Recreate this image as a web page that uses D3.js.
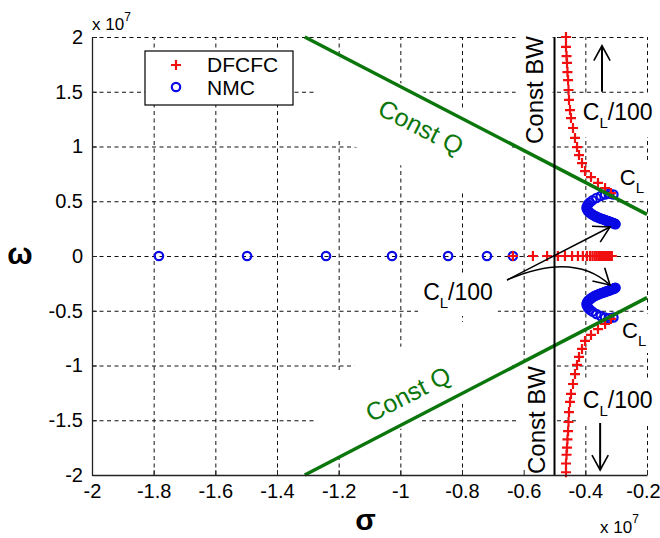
<!DOCTYPE html>
<html>
<head>
<meta charset="utf-8">
<script src="https://cdn.jsdelivr.net/npm/d3@7"></script>
<style>
  body { margin: 0; background: #fff; }
  svg text { font-family: "Liberation Sans", Arial, sans-serif; }
</style>
</head>
<body>
<svg id="chart" width="660" height="538"></svg>
<script>
// values are in units of 1e7 (as on the axes)
var xTicks = [-2, -1.8, -1.6, -1.4, -1.2, -1, -0.8, -0.6, -0.4, -0.2];
var xTickLabels = ["-2", "-1.8", "-1.6", "-1.4", "-1.2", "-1", "-0.8", "-0.6", "-0.4", "-0.2"];
var yTicks = [-2, -1.5, -1, -0.5, 0, 0.5, 1, 1.5, 2];
var yTickLabels = ["-2", "-1.5", "-1", "-0.5", "0", "0.5", "1", "1.5", "2"];

var legendNames = ["DFCFC", "NMC"];

// NMC poles on the real axis (sigma)
var nmcReal = [-1.783, -1.497, -1.241, -1.027, -0.845, -0.719, -0.635];
// NMC complex poles [sigma, omega]
var nmcUpper = [[-0.309,0.562],[-0.322,0.568],[-0.336,0.562],[-0.350,0.548],[-0.364,0.530],[-0.377,0.508],
  [-0.386,0.488],[-0.391,0.472],[-0.394,0.457],[-0.396,0.443],[-0.395,0.430],[-0.393,0.418],[-0.390,0.407],
  [-0.386,0.397],[-0.382,0.388],[-0.378,0.379],[-0.373,0.371],[-0.368,0.364],[-0.363,0.357],[-0.358,0.351],
  [-0.353,0.345],[-0.348,0.340],[-0.343,0.335],[-0.338,0.330],[-0.334,0.326],[-0.330,0.322],[-0.326,0.318],
  [-0.322,0.314],[-0.319,0.310],[-0.316,0.307],[-0.313,0.304],[-0.311,0.301],[-0.309,0.299],[-0.307,0.297],
  [-0.305,0.295],[-0.304,0.293],[-0.302,0.291]];
var nmcLower = [[-0.309,-0.562],[-0.322,-0.568],[-0.336,-0.562],[-0.350,-0.548],[-0.364,-0.530],[-0.377,-0.508],
  [-0.386,-0.488],[-0.391,-0.472],[-0.394,-0.457],[-0.396,-0.443],[-0.395,-0.430],[-0.393,-0.418],[-0.390,-0.407],
  [-0.386,-0.397],[-0.382,-0.388],[-0.378,-0.379],[-0.373,-0.371],[-0.368,-0.364],[-0.363,-0.357],[-0.358,-0.351],
  [-0.353,-0.345],[-0.348,-0.340],[-0.343,-0.335],[-0.338,-0.330],[-0.334,-0.326],[-0.330,-0.322],[-0.326,-0.318],
  [-0.322,-0.314],[-0.319,-0.310],[-0.316,-0.307],[-0.313,-0.304],[-0.311,-0.301],[-0.309,-0.299],[-0.307,-0.297],
  [-0.305,-0.295],[-0.304,-0.293],[-0.302,-0.291]];

// DFCFC poles
var dfcfcReal = [-0.635, -0.570, -0.524, -0.489, -0.466, -0.443, -0.424, -0.408, -0.395, -0.385, -0.377,
  -0.370, -0.364, -0.358, -0.353, -0.348, -0.344, -0.340, -0.336, -0.333, -0.330, -0.327, -0.324, -0.321,
  -0.318, -0.316, -0.314];
var dfcfcUpper = [[-0.4627,2.000],[-0.4627,1.909],[-0.461,1.826],[-0.4594,1.763],[-0.458,1.680],[-0.456,1.607],
  [-0.4546,1.516],[-0.453,1.425],[-0.4497,1.333],[-0.4465,1.260],[-0.440,1.169],[-0.4335,1.078],[-0.427,0.995],
  [-0.4205,0.922],[-0.4108,0.849],[-0.401,0.776],[-0.3816,0.721],[-0.359,0.667],[-0.336,0.621],[-0.317,0.575]];
var dfcfcLower = [[-0.4627,-1.975],[-0.4627,-1.895],[-0.461,-1.815],[-0.4594,-1.750],[-0.458,-1.675],[-0.456,-1.600],
  [-0.4546,-1.516],[-0.453,-1.425],[-0.4497,-1.333],[-0.4465,-1.260],[-0.440,-1.169],[-0.4335,-1.078],[-0.427,-0.995],
  [-0.4205,-0.922],[-0.4108,-0.849],[-0.401,-0.776],[-0.3816,-0.721],[-0.359,-0.667],[-0.336,-0.621],[-0.317,-0.575]];

// reference lines
var constQUpper = [[-1.31, 2], [-0.2, 0.38]];
var constQLower = [[-1.31, -2], [-0.2, -0.38]];
var constBW = -0.5;

var margin = {top: 37, right: 13, bottom: 63, left: 92},
    width = 660 - margin.left - margin.right,
    height = 538 - margin.top - margin.bottom;

var x = d3.scaleLinear().domain([-2, -0.2]).range([0, width]),
    y = d3.scaleLinear().domain([-2, 2]).range([height, 0]);

var root = d3.select("#chart");
var svg = root.append("g")
    .attr("transform", "translate(" + margin.left + "," + margin.top + ")");

// dashed grid
svg.append("g")
    .attr("transform", "translate(0," + height + ")")
    .call(d3.axisBottom(x).tickValues(xTicks.slice(1)).tickSize(-height).tickFormat(""))
    .call(g => g.select(".domain").remove())
  .selectAll("line")
    .attr("stroke", "#111").attr("stroke-dasharray", "4,3.5");
svg.append("g")
    .call(d3.axisLeft(y).tickValues(yTicks.slice(1)).tickSize(-width).tickFormat(""))
    .call(g => g.select(".domain").remove())
  .selectAll("line")
    .attr("stroke", "#111").attr("stroke-dasharray", "4,3.5");

var bgLayer = svg.append("g");      // white boxes behind annotations
var markLayer = svg.append("g");
var textLayer = svg.append("g");

// big white box behind the Const Q labels (hides the grid there)
[[-0.969, 1.169, 22], [-0.969, -1.169, -22]].forEach(function(b) {
  bgLayer.append("rect")
    .attr("transform", "translate(" + x(b[0]) + "," + y(b[1]) + ") rotate(" + b[2] + ")")
    .attr("x", -100).attr("y", -38).attr("width", 200).attr("height", 76)
    .attr("fill", "#fff");
});

// axes
var xAxis = svg.append("g")
    .attr("transform", "translate(0," + height + ")")
    .call(d3.axisBottom(x).tickValues(xTicks).tickSizeInner(-5).tickSizeOuter(0).tickPadding(9)
      .tickFormat(function(d, i) { return xTickLabels[i]; }));
var yAxis = svg.append("g")
    .call(d3.axisLeft(y).tickValues(yTicks).tickSizeInner(-5).tickSizeOuter(0).tickPadding(9)
      .tickFormat(function(d, i) { return yTickLabels[i]; }));
[xAxis, yAxis].forEach(function(a) {
  a.attr("font-size", 20).attr("font-family", "Liberation Sans, Arial, sans-serif");
  a.selectAll("text").attr("fill", "#000");
  a.selectAll("line").attr("stroke", "#222");
  a.select(".domain").attr("stroke", "#222").attr("stroke-width", 1.3);
});
// last x label sits against the right edge of the picture
xAxis.selectAll(".tick text").filter(d => d === -0.2).attr("dx", -4);

// markers
var blue = "#0a0ae6", red = "#f01010", green = "#0b760b";
var circles = nmcReal.map(function(s) { return [s, 0]; }).concat(nmcUpper, nmcLower);
markLayer.selectAll(".nmc").data(circles).join("circle")
    .attr("class", "nmc")
    .attr("cx", d => x(d[0])).attr("cy", d => y(d[1])).attr("r", 4.2)
    .attr("fill", "none").attr("stroke", blue).attr("stroke-width", 2.2);

var pluses = dfcfcReal.map(function(s) { return [s, 0]; }).concat(dfcfcUpper, dfcfcLower);
markLayer.selectAll(".dfcfc").data(pluses).join("path")
    .attr("class", "dfcfc")
    .attr("transform", d => "translate(" + x(d[0]) + "," + y(d[1]) + ")")
    .attr("d", "M-5,0H5M0,-5V5")
    .attr("stroke", red).attr("stroke-width", 2.2);

// const Q and const BW lines
var line = d3.line().x(d => x(d[0])).y(d => y(d[1]));
[constQUpper, constQLower].forEach(function(q) {
  markLayer.append("path").attr("d", line(q))
    .attr("stroke", green).attr("stroke-width", 3.5).attr("fill", "none");
});
markLayer.append("line")
    .attr("x1", x(constBW)).attr("x2", x(constBW)).attr("y1", 0).attr("y2", height)
    .attr("stroke", "#000").attr("stroke-width", 2);

// arrows
function arrowHead(tip, dir, len, spread) {
  var a1 = dir + Math.PI - spread, a2 = dir + Math.PI + spread;
  markLayer.append("path")
    .attr("d", "M" + (tip[0] + len * Math.cos(a1)) + "," + (tip[1] + len * Math.sin(a1)) +
               "L" + tip[0] + "," + tip[1] +
               "L" + (tip[0] + len * Math.cos(a2)) + "," + (tip[1] + len * Math.sin(a2)))
    .attr("stroke", "#000").attr("stroke-width", 1.6).attr("fill", "none");
}
function arrowLine(p0, p1, w) {
  markLayer.append("line")
    .attr("x1", p0[0]).attr("y1", p0[1]).attr("x2", p1[0]).attr("y2", p1[1])
    .attr("stroke", "#000").attr("stroke-width", w);
}
var start = [x(-0.654), y(-0.219)];
var tipUp = [x(-0.32), y(0.265)], tipDown = [x(-0.32), y(-0.265)], ctrl = [x(-0.438), y(0.044)];
arrowLine(start, tipUp, 1.5);
arrowHead(tipUp, Math.atan2(tipUp[1] - start[1], tipUp[0] - start[0]), 18, 0.52);
markLayer.append("path")
    .attr("d", "M" + start + "Q" + ctrl + " " + tipDown)
    .attr("stroke", "#000").attr("stroke-width", 1.5).attr("fill", "none");
arrowHead(tipDown, Math.atan2(tipDown[1] - ctrl[1], tipDown[0] - ctrl[0]), 18, 0.52);

var upA = [x(-0.346), y(1.5)], upB = [x(-0.346), y(1.92)];
arrowLine(upA, upB, 2);
arrowHead(upB, -Math.PI / 2, 17, 0.5);
var dnA = [x(-0.352), y(-1.525)], dnB = [x(-0.352), y(-1.954)];
arrowLine(dnA, dnB, 2);
arrowHead(dnB, Math.PI / 2, 17, 0.5);

// text annotations with white background boxes
function label(px, py, angle, parts, size, color, anchor, dy, pad) {
  var tr = "translate(" + px + "," + py + ") rotate(" + angle + ")";
  var t = textLayer.append("g").attr("transform", tr).append("text")
      .attr("font-size", size).attr("fill", color).attr("text-anchor", anchor).attr("dy", dy);
  parts.forEach(function(p, i) {
    var ts = t.append("tspan").text(p[0]);
    if (p[1]) ts.attr("font-size", 15).attr("dy", 8);
    else if (i > 0 && parts[i - 1][1]) ts.attr("dy", -8);
  });
  if (pad) {
    var bb = t.node().getBBox();
    bgLayer.append("rect").attr("transform", tr)
      .attr("x", bb.x - pad).attr("y", bb.y - pad)
      .attr("width", bb.width + 2 * pad).attr("height", bb.height + 2 * pad)
      .attr("fill", "#fff");
  }
}
label(x(-0.933), y(1.178), 27, [["Const Q"]], 25, green, "middle", "0.35em", 0);
label(x(-0.975), y(-1.26), -27, [["Const Q"]], 25, green, "middle", "0.35em", 0);
label(x(-0.566), y(1.516), -90, [["Const BW"]], 24, "#000", "middle", "0.35em", 5);
label(x(-0.557), y(-1.498), -90, [["Const BW"]], 24, "#000", "middle", "0.35em", 5);
var clPct = [["C"], ["L", true], ["/100"]];
label(x(-0.926), y(-0.402), 0, clPct, 23, "#000", "start", 0, 5);
label(x(-0.408), y(1.242), 0, clPct, 23, "#000", "start", 0, 6);
label(x(-0.408), y(-1.388), 0, clPct, 23, "#000", "start", 0, 6);
label(x(-0.288), y(0.648), 0, [["C"], ["L", true]], 22, "#000", "start", 0, 4);
label(x(-0.281), y(-0.749), 0, [["C"], ["L", true]], 22, "#000", "start", 0, 4);

// legend
var leg = svg.append("g").attr("transform", "translate(53,14)");
leg.append("rect").attr("width", 148).attr("height", 54)
    .attr("fill", "#fff").attr("stroke", "#000").attr("stroke-width", 1.2);
leg.append("path").attr("transform", "translate(31,14)").attr("d", "M-5,0H5M0,-5V5")
    .attr("stroke", red).attr("stroke-width", 2.2);
leg.append("circle").attr("cx", 31).attr("cy", 36).attr("r", 4.2)
    .attr("fill", "none").attr("stroke", blue).attr("stroke-width", 2.2);
leg.selectAll(".lt").data(legendNames).join("text")
    .attr("x", 62).attr("y", (d, i) => 21 + i * 23)
    .attr("font-size", 21).text(d => d);

// exponent labels and axis titles
function expLabel(px, py, dy) {
  var t = root.append("text").attr("x", px).attr("y", py).attr("font-size", 17);
  t.append("tspan").text("x 10");
  t.append("tspan").attr("font-size", 12).attr("dy", dy).text("7");
}
expLabel(92, 30, -9);
expLabel(600, 533, -10);

root.append("text").attr("x", margin.left + width / 2 - 4).attr("y", 530)
    .attr("text-anchor", "middle").attr("font-size", 30).attr("font-weight", "bold").text("σ");
root.append("text").attr("x", 20).attr("y", 264)
    .attr("text-anchor", "middle").attr("font-size", 30).attr("font-weight", "bold").text("ω");
</script>
</body>
</html>
